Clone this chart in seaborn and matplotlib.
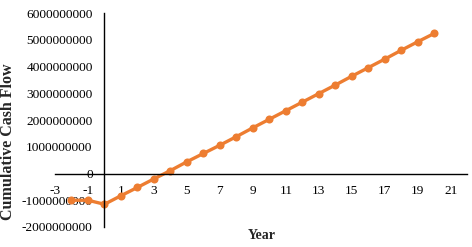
import matplotlib
matplotlib.use("Agg")
import matplotlib.pyplot as plt
import seaborn as sns
import pandas as pd

years = [-2, -1, 0, 1, 2, 3, 4, 5, 6, 7, 8, 9, 10, 11, 12, 13, 14, 15, 16, 17, 18, 19, 20]
cumulative_cash_flow = [-1.00e9, -1.00e9, -1.15e9, -0.83e9, -0.52e9, -0.20e9, 0.11e9, 0.44e9,
                        0.75e9, 1.06e9, 1.38e9, 1.71e9, 2.03e9, 2.35e9, 2.67e9, 2.99e9,
                        3.31e9, 3.64e9, 3.96e9, 4.28e9, 4.61e9, 4.93e9, 5.24e9]
x_ticks = [-3, -1, 1, 3, 5, 7, 9, 11, 13, 15, 17, 19, 21]
y_ticks = [-2e9, -1e9, 0, 1e9, 2e9, 3e9, 4e9, 5e9, 6e9]

df = pd.DataFrame({"Year": years, "Cumulative Cash Flow": cumulative_cash_flow})

sns.set_style("white")
plt.rcParams["font.family"] = ["Liberation Serif", "DejaVu Serif"]

fig = plt.figure(figsize=(4.72, 2.47), dpi=100)
ax = fig.add_axes([0.1165, 0.081, 0.8735, 0.866])

sns.lineplot(data=df, x="Year", y="Cumulative Cash Flow", ax=ax, color="#ED7D31",
             linewidth=2.4, marker="o", markersize=5.8, markeredgewidth=0)

ax.set_xlim(-3, 22)
ax.set_ylim(-2e9, 6e9)
ax.set_xticks(x_ticks)
ax.set_xticklabels([str(t) for t in x_ticks])
ax.set_yticks(y_ticks)
ax.set_yticklabels([f"{int(t)}" for t in y_ticks])

ax.spines["left"].set_position(("data", 0))
ax.spines["bottom"].set_position(("data", 0))
ax.spines["top"].set_visible(False)
ax.spines["right"].set_visible(False)
for s in ("left", "bottom"):
    ax.spines[s].set_color("black")
    ax.spines[s].set_linewidth(1.0)

ax.tick_params(axis="both", length=0, labelsize=9.6, colors="black")
ax.tick_params(axis="x", pad=8)
ax.tick_params(axis="y", pad=8.5)

ax.set_xlabel("")
ax.set_ylabel("")
fig.text(262 / 472, 1 - 235 / 247, "Year", fontsize=10, fontweight="bold",
         ha="center", va="center")
fig.text(8.5 / 472, 1 - 142 / 247, "Cumulative Cash Flow", fontsize=11.5, fontweight="bold",
         ha="center", va="center", rotation=90)
ax.grid(False)

fig.savefig("out.png", dpi=100)
